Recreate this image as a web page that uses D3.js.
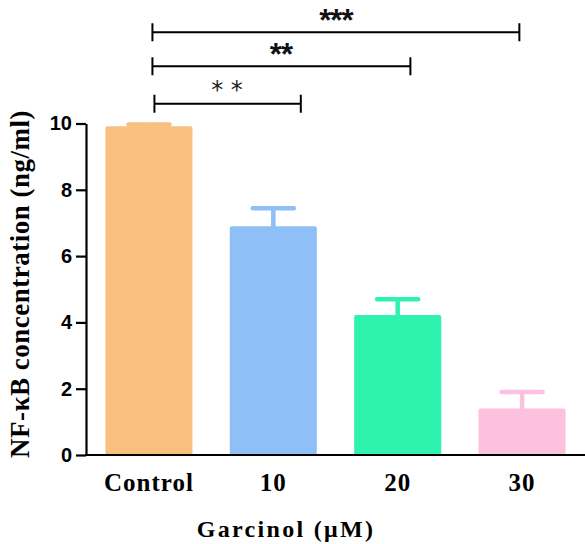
<!DOCTYPE html>
<html>
<head>
<meta charset="utf-8">
<script src="https://cdn.jsdelivr.net/npm/d3@7"></script>
<style>
  html, body { margin: 0; padding: 0; background: #fff; }
  svg { display: block; }
</style>
</head>
<body>
<svg id="chart" width="585" height="544"></svg>
<script>
// ---- data ----
const categories = ["Control", "10", "20", "30"];
const means = [9.92, 6.90, 4.22, 1.40];
const sems = [0.05, 0.54, 0.48, 0.50];
const barColors = ["#F9BF7F", "#8EBFF7", "#2FF2AE", "#FCC1DF"];
const yTicks = [0, 2, 4, 6, 8, 10];
const bracketFrom = ["Control", "Control", "Control"];
const bracketTo = ["10", "20", "30"];
const bracketLabels = ["* *", "**", "***"];
const xTitle = "Garcinol (\u03BCM)";
const yTitle = "NF-\u03BAB concentration (ng/ml)";

// ---- layout ----
const svg = d3.select("#chart");
const x = d3.scaleBand().domain(categories).range([86, 585]).paddingInner(0.3).paddingOuter(0.156);
const y = d3.scaleLinear().domain([0, 10]).range([455, 123.5]);

// bars
svg.append("g").selectAll("rect").data(categories).join("rect")
  .attr("x", d => x(d))
  .attr("width", x.bandwidth())
  .attr("y", (d, i) => y(means[i]))
  .attr("height", (d, i) => y(0) - y(means[i]))
  .attr("rx", 2)
  .attr("fill", (d, i) => barColors[i]);

// error bars
const eb = svg.append("g");
categories.forEach((c, i) => {
  const cx = x(c) + x.bandwidth() / 2;
  const top = y(means[i] + sems[i]);
  eb.append("line").attr("x1", cx).attr("x2", cx)
    .attr("y1", y(means[i]) + 1).attr("y2", top)
    .attr("stroke", barColors[i]).attr("stroke-width", 4.5);
  eb.append("line").attr("x1", cx - 20.5).attr("x2", cx + 20.5)
    .attr("y1", top).attr("y2", top)
    .attr("stroke", barColors[i]).attr("stroke-width", 4.5)
    .attr("stroke-linecap", "round");
});

// y axis
const yAxis = svg.append("g").attr("transform", "translate(86,0)")
  .call(d3.axisLeft(y).tickValues(yTicks).tickSize(10).tickSizeOuter(0).tickPadding(4));
yAxis.select(".domain").attr("stroke", "#000").attr("stroke-width", 2.2);
yAxis.selectAll(".tick line").attr("stroke", "#000").attr("stroke-width", 2.2);
yAxis.selectAll(".tick text")
  .attr("font-family", "'Liberation Sans', Arial, sans-serif")
  .attr("font-weight", "bold").attr("font-size", 20).attr("fill", "#000");

// x axis
const xAxis = svg.append("g").attr("transform", "translate(0,455)")
  .call(d3.axisBottom(x).tickSize(0).tickSizeOuter(0).tickPadding(18));
xAxis.select(".domain").attr("stroke", "#000").attr("stroke-width", 2.2)
  .attr("d", "M85,0H585");
xAxis.selectAll(".tick text")
  .attr("font-family", "'Liberation Serif', 'Times New Roman', serif")
  .attr("font-weight", "bold").attr("font-size", 25).attr("letter-spacing", 1).attr("fill", "#000");

// titles
svg.append("text").attr("x", 286).attr("y", 537)
  .attr("text-anchor", "middle")
  .attr("font-family", "'Liberation Serif', 'Times New Roman', serif")
  .attr("font-weight", "bold").attr("font-size", 24).attr("letter-spacing", 2.3)
  .text(xTitle);
svg.append("text").attr("transform", "translate(29,284) rotate(-90)")
  .attr("text-anchor", "middle")
  .attr("font-family", "'Liberation Serif', 'Times New Roman', serif")
  .attr("font-weight", "bold").attr("font-size", 27).attr("letter-spacing", 0.5)
  .text(yTitle);

// significance brackets
const bracketY = [103.7, 66.3, 32.3];
const leftOff = [5.5, 3.5, 3.5];
const rightOff = [27.5, 12.7, -2.7];
const bg = svg.append("g");
bracketFrom.forEach((f, i) => {
  const x1 = x(f) + x.bandwidth() / 2 + leftOff[i];
  const x2 = x(bracketTo[i]) + x.bandwidth() / 2 + rightOff[i];
  const by = bracketY[i];
  bg.append("path")
    .attr("d", `M${x1},${by - 9}V${by + 9}M${x1},${by}H${x2}M${x2},${by - 9}V${by + 9}`)
    .attr("fill", "none").attr("stroke", "#000").attr("stroke-width", 2);
  const thin = i === 0;
  bg.append("text")
    .attr("x", thin ? 227 : (x1 + x2) / 2 + (i === 1 ? -0.5 : 0))
    .attr("y", thin ? by - 6 : by - 1)
    .attr("text-anchor", "middle")
    .attr("font-family", thin ? "'DejaVu Sans', sans-serif" : "'Liberation Sans', Arial, sans-serif")
    .attr("font-weight", thin ? "normal" : "bold")
    .attr("font-size", thin ? 24 : 31)
    .attr("fill", thin ? "#222" : "#111")
    .attr("letter-spacing", thin ? 0 : -1)
    .text(bracketLabels[i]);
});
</script>
</body>
</html>
